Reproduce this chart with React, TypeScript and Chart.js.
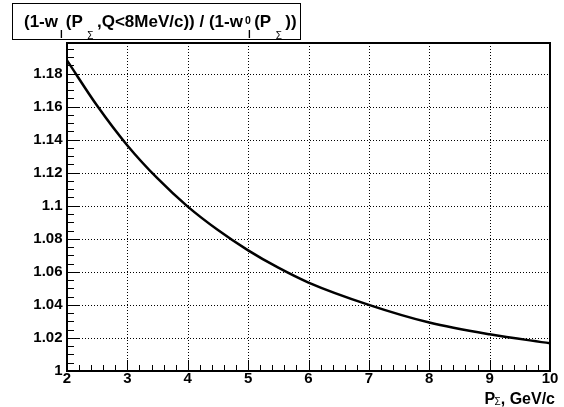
import { useEffect, useRef } from 'react';
import { Chart, registerables } from 'chart.js';

Chart.register(...registerables);

// ---- data ----
const momentum = [2, 2.5, 3, 3.5, 4, 4.5, 5, 5.5, 6, 7, 8, 9, 10];
const ratio = [1.188, 1.1605, 1.1365, 1.1165, 1.0995, 1.0853, 1.073, 1.0625, 1.0535, 1.04, 1.0293, 1.0222, 1.0168];

const xTickValues = [2, 3, 4, 5, 6, 7, 8, 9, 10];
const xTickLabels = ['2', '3', '4', '5', '6', '7', '8', '9', '10'];
const yTickValues = [1, 1.02, 1.04, 1.06, 1.08, 1.1, 1.12, 1.14, 1.16, 1.18];
const yTickLabels = ['1', '1.02', '1.04', '1.06', '1.08', '1.1', '1.12', '1.14', '1.16', '1.18'];
const xRange = [2, 10];
const yRange = [1, 1.1985];
const xMinorDivisions = 5;
const yMinorDivisions = 4;

const FONT = '"Liberation Sans", Arial, Helvetica, sans-serif';

type Run = { text: string; font: string; dy?: number; pre?: number; post?: number; keep?: boolean };

function measureRuns(ctx: CanvasRenderingContext2D, runs: Run[]) {
  let w = 0;
  for (const r of runs) {
    ctx.font = r.font;
    w += r.pre ?? 0;
    if (!r.keep) w += ctx.measureText(r.text).width + (r.post ?? 0);
  }
  return w;
}

function drawRuns(ctx: CanvasRenderingContext2D, x: number, y: number, runs: Run[]) {
  for (const r of runs) {
    ctx.font = r.font;
    x += r.pre ?? 0;
    ctx.fillText(r.text, x, y + (r.dy ?? 0));
    if (!r.keep) x += ctx.measureText(r.text).width + (r.post ?? 0);
  }
  return x;
}

const M = `bold 17px ${FONT}`;
const SUB = `bold 10px ${FONT}`;
const SIG = `10px ${FONT}`;
const SUP = `bold 10.5px ${FONT}`;

const titleRuns: Run[] = [
  { text: '(1-w', font: M },
  { text: 'l', font: SUB, dy: 10.5, pre: 2, post: 3 },
  { text: '(P', font: M },
  { text: '\u03A3', font: SIG, dy: 11.5, pre: 4.5, post: 3.5 },
  { text: ',Q<8MeV/c)) / (1-w', font: M },
  { text: '0', font: SUP, dy: -3, pre: 2, keep: true },
  { text: 'l', font: SUB, dy: 10.5, pre: 3, post: 3.5 },
  { text: '(P', font: M },
  { text: '\u03A3', font: SIG, dy: 11.5, pre: 4.5, post: 3.5 },
  { text: '))', font: M },
];

const XT = `bold 16px ${FONT}`;
const xTitleRuns: Run[] = [
  { text: 'P', font: XT },
  { text: '\u03A3', font: `10px ${FONT}`, dy: 1, pre: -0.5, post: 0 },
  { text: ', GeV/c', font: XT },
];

const rootStyle = {
  id: 'rootStyle',
  beforeDatasetsDraw(chart: any) {
    const { ctx, chartArea: a } = chart;
    const xs = chart.scales.x;
    const ys = chart.scales.y;
    ctx.save();
    ctx.strokeStyle = '#000';
    ctx.lineWidth = 1;
    ctx.setLineDash([1, 2]);
    ctx.beginPath();
    xTickValues.forEach((v) => {
      if (v <= xRange[0] || v >= xRange[1]) return;
      const px = Math.round(xs.getPixelForValue(v)) + 0.5;
      ctx.moveTo(px, a.top);
      ctx.lineTo(px, a.bottom);
    });
    yTickValues.forEach((v) => {
      if (v <= yRange[0] || v >= yRange[1]) return;
      const py = Math.round(ys.getPixelForValue(v)) + 0.5;
      ctx.moveTo(a.left, py);
      ctx.lineTo(a.right, py);
    });
    ctx.stroke();
    ctx.restore();
  },
  afterDatasetsDraw(chart: any) {
    const { ctx, chartArea: a } = chart;
    const xs = chart.scales.x;
    const ys = chart.scales.y;
    ctx.save();
    ctx.strokeStyle = '#000';
    ctx.lineWidth = 1;
    ctx.setLineDash([]);
    ctx.beginPath();
    // x ticks (major + minor), drawn inward
    for (let i = 0; i < xTickValues.length - 1; i++) {
      const v0 = xTickValues[i];
      const v1 = xTickValues[i + 1];
      for (let k = 0; k < xMinorDivisions; k++) {
        const v = v0 + ((v1 - v0) * k) / xMinorDivisions;
        const px = Math.round(xs.getPixelForValue(v)) + 0.5;
        const len = k === 0 ? 11 : 6;
        ctx.moveTo(px, a.bottom);
        ctx.lineTo(px, a.bottom - len);
      }
    }
    // y ticks (major + minor), drawn inward
    const yStep = yTickValues[1] - yTickValues[0];
    const yMinor = yStep / yMinorDivisions;
    for (let k = 0; ; k++) {
      const v = yRange[0] + k * yMinor;
      if (v > yRange[1] + 1e-9) break;
      const py = Math.round(ys.getPixelForValue(v)) + 0.5;
      const len = k % yMinorDivisions === 0 ? 13 : 7;
      ctx.moveTo(a.left, py);
      ctx.lineTo(a.left + len, py);
    }
    ctx.stroke();
    // frame
    ctx.lineWidth = 2;
    ctx.strokeRect(a.left, a.top, a.right - a.left, a.bottom - a.top);
    ctx.restore();
  },
  afterDraw(chart: any) {
    const { ctx } = chart;
    ctx.save();
    // title box
    ctx.fillStyle = '#fff';
    ctx.fillRect(12.5, 3.5, 288, 36);
    ctx.strokeStyle = '#000';
    ctx.lineWidth = 1;
    ctx.strokeRect(12.5, 3.5, 288, 36);
    ctx.fillStyle = '#000';
    ctx.textBaseline = 'alphabetic';
    ctx.textAlign = 'left';
    drawRuns(ctx, 24, 27, titleRuns);
    // x axis title, right aligned
    const w = measureRuns(ctx, xTitleRuns);
    drawRuns(ctx, 555 - w, 404, xTitleRuns);
    ctx.restore();
  },
};

export default function App() {
  const ref = useRef<HTMLCanvasElement | null>(null);

  useEffect(() => {
    document.body.style.margin = '0';
    const canvas = ref.current;
    if (!canvas) return;
    const tickFont = { family: FONT, size: 15, weight: 'bold' as const, lineHeight: 1 };
    const chart = new Chart(canvas, {
      type: 'line',
      data: {
        datasets: [
          {
            data: momentum.map((x, i) => ({ x, y: ratio[i] })),
            borderColor: '#000',
            borderWidth: 2.5,
            pointRadius: 0,
            fill: false,
            cubicInterpolationMode: 'monotone',
          },
        ],
      },
      options: {
        animation: false,
        responsive: false,
        devicePixelRatio: 1,
        layout: { padding: { top: 43, right: 14, left: 0, bottom: 0 } },
        plugins: {
          legend: { display: false },
          tooltip: { enabled: false },
          title: { display: false },
        },
        scales: {
          x: {
            type: 'linear',
            min: xRange[0],
            max: xRange[1],
            grid: { display: false, drawTicks: false },
            border: { display: false },
            afterBuildTicks: (s: any) => {
              s.ticks = xTickValues.map((value) => ({ value }));
            },
            afterFit: (s: any) => {
              s.height = 36;
            },
            ticks: {
              autoSkip: false,
              maxRotation: 0,
              padding: 0,
              color: '#000',
              font: tickFont,
              callback: (_v: any, i: number) => xTickLabels[i],
            },
          },
          y: {
            type: 'linear',
            min: yRange[0],
            max: yRange[1],
            grid: { display: false, drawTicks: false },
            border: { display: false },
            afterBuildTicks: (s: any) => {
              s.ticks = yTickValues.map((value) => ({ value }));
            },
            afterFit: (s: any) => {
              s.width = 67;
            },
            ticks: {
              autoSkip: false,
              padding: 4.5,
              color: '#000',
              font: tickFont,
              callback: (_v: any, i: number) => yTickLabels[i],
            },
          },
        },
      } as any,
      plugins: [rootStyle],
    });
    return () => chart.destroy();
  }, []);

  return (
    <div style={{ position: 'absolute', left: 0, top: 0, width: 564, height: 407, background: '#fff' }}>
      <canvas ref={ref} width={564} height={407} style={{ display: 'block' }} />
    </div>
  );
}
